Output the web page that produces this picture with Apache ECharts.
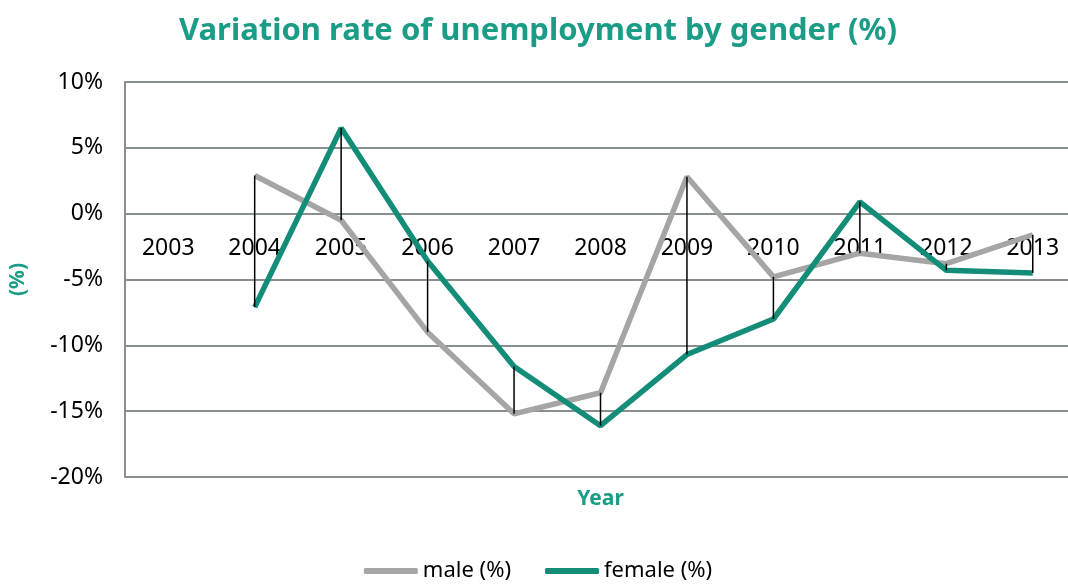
<!DOCTYPE html>
<html>
<head>
<meta charset="utf-8">
<script src="https://cdn.jsdelivr.net/npm/echarts@6/dist/echarts.min.js"></script>
<style>
html,body{margin:0;padding:0;background:#fff;overflow:hidden;}
#chart{width:1076px;height:588px;}
</style>
</head>
<body>
<div id="chart"></div>
<script>
//年份
var years = ['2003', '2004', '2005', '2006', '2007', '2008', '2009', '2010', '2011', '2012', '2013'];
//男性失业变化率
var maleData = [null, 2.9, -0.5, -9.0, -15.2, -13.6, 2.8, -4.8, -3.0, -3.8, -1.6];
//女性失业变化率
var femaleData = [null, -7.1, 6.5, -3.6, -11.6, -16.1, -10.7, -8.0, 0.9, -4.3, -4.5];
//y轴刻度
var yTicks = [-20, -15, -10, -5, 0, 5, 10];

var teal = '#138d78';
var titleTeal = '#1a9c86';
var font = 'Noto Sans';

//高低线数据
var hiLo = [];
for (var i = 0; i < years.length; i++) {
	if (maleData[i] != null && femaleData[i] != null) {
		hiLo.push([i, maleData[i], femaleData[i]]);
	}
}

//图表比窗口宽一点，右边被裁掉（和原图一样）
var mychart = echarts.init(document.getElementById('chart'));
var option = {
	animation: false,
	title: {
		text: 'Variation rate of unemployment by gender (%)',
		left: 'center',
		top: 11,
		textStyle: {
			color: titleTeal,
			fontFamily: font,
			fontWeight: 'bold',
			fontSize: 31
		}
	},
	legend: {
		bottom: 1,
		left: 'center',
		icon: 'roundRect',
		itemWidth: 54,
		itemHeight: 6,
		itemGap: 34,
		textStyle: {
			color: '#000',
			fontFamily: font,
			fontSize: 22
		},
		data: ['male (%)', 'female (%)']
	},
	grid: {
		left: 124,
		right: 0,
		top: 82,
		bottom: 111
	},
	xAxis: {
		type: 'category',
		data: years,
		boundaryGap: true,
		name: 'Year',
		nameLocation: 'middle',
		nameGap: 12,
		nameTextStyle: {
			color: titleTeal,
			fontFamily: font,
			fontWeight: 'bold',
			fontSize: 21
		},
		axisLine: {
			show: false,
			onZero: false
		},
		axisTick: { show: false },
		axisLabel: { show: false }
	},
	yAxis: {
		type: 'value',
		min: -20,
		max: 10,
		interval: 5,
		name: '(%)',
		nameLocation: 'middle',
		nameGap: 96,
		nameRotate: 90,
		nameTextStyle: {
			color: titleTeal,
			fontFamily: font,
			fontWeight: 'bold',
			fontSize: 21
		},
		axisLine: {
			show: true,
			lineStyle: { color: '#8c8c8c', width: 2 }
		},
		axisTick: { show: false },
		axisLabel: {
			color: '#000',
			fontFamily: font,
			fontSize: 23,
			margin: 22,
			formatter: function (v) { return v + '%'; }
		},
		splitLine: {
			lineStyle: { color: '#5f6b66', width: 1.5 }
		}
	},
	series: [{
		//年份标签放在0%线下方
		type: 'custom',
		silent: true,
		z: 1,
		data: years.map(function (y, i) { return [i, 0]; }),
		renderItem: function (params, api) {
			var p = api.coord([api.value(0), api.value(1)]);
			return {
				type: 'text',
				style: {
					text: years[params.dataIndex],
					x: p[0],
					y: p[1] + 35,
					align: 'center',
					verticalAlign: 'middle',
					fill: '#000',
					font: '23px "Noto Sans"'
				}
			};
		}
	}, {
		//高低线
		type: 'custom',
		silent: true,
		z: 3,
		data: hiLo,
		renderItem: function (params, api) {
			var a = api.coord([api.value(0), api.value(1)]);
			var b = api.coord([api.value(0), api.value(2)]);
			return {
				type: 'line',
				shape: { x1: a[0], y1: a[1], x2: b[0], y2: b[1] },
				style: { stroke: '#000', lineWidth: 1.5 }
			};
		}
	}, {
		name: 'male (%)',
		type: 'line',
		data: maleData,
		symbol: 'none',
		z: 2,
		color: '#a5a5a5',
		lineStyle: { color: '#a5a5a5', width: 5.5 }
	}, {
		name: 'female (%)',
		type: 'line',
		data: femaleData,
		symbol: 'none',
		z: 2,
		color: teal,
		lineStyle: { color: teal, width: 5.5 }
	}]
};
mychart.setOption(option);
</script>
</body>
</html>
